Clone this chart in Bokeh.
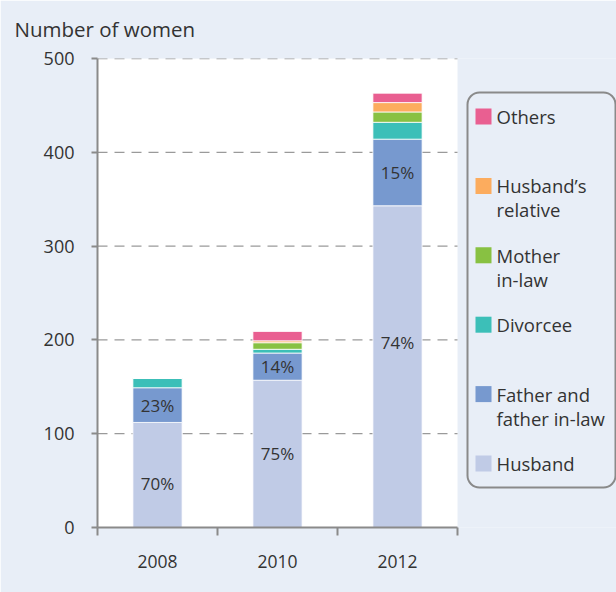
from bokeh.plotting import figure
from bokeh.models import Range1d, FixedTicker, BoxAnnotation, ColumnDataSource
from bokeh.core.properties import value
from bokeh.embed import file_html
from bokeh.resources import INLINE

# ---------------- data ----------------
years = ["2008", "2010", "2012"]
series_keys = ["husband", "father", "divorcee", "mother_in_law", "husbands_relative", "others"]
legend_labels = ["Husband", "Father and\nfather in-law", "Divorcee", "Mother\nin-law",
                 "Husband\u2019s\nrelative", "Others"]
husband = [112, 157, 343]
father = [37, 29, 71]
divorcee = [10, 4, 18]
mother_in_law = [0, 7, 11]
husbands_relative = [0, 2, 10]
others = [0, 10, 10]
colors = ["#c0cbe6", "#7799cf", "#3cbfb8", "#88c142", "#fcac5e", "#e95f91"]
y_ticks = [0, 100, 200, 300, 400, 500]
husband_label_y = [47, 79, 197]   # where the husband share labels sit
axis_title = "Number of women"

# ---------------- style ----------------
FONT = "Open Sans"
TXT = "#333333"
BG = "#e8eef7"
AX = "#8a8a8a"
W, H = 616, 592
FL, FT, FB = 97, 58, 65          # frame left / top / bottom borders (px)
PX_PER_X = 120.0
frame_h = H - FT - FB
x_end = (W - FL) / PX_PER_X


def fx(px):   # figure pixel x -> data x
    return (px - FL) / PX_PER_X


def fy(py):   # figure pixel y -> data y
    return (H - FB - py) * 500.0 / frame_h


xs = [i + 0.5 for i in range(len(years))]
n_cat = len(years)

p = figure(width=W, height=H, output_backend="svg", toolbar_location=None,
           x_range=Range1d(0, x_end), y_range=Range1d(0, 500),
           min_border_left=FL, min_border_top=FT, min_border_bottom=FB, min_border_right=0)
p.background_fill_color = BG
p.border_fill_color = BG
p.outline_line_color = None
p.xgrid.visible = False
p.ygrid.visible = False

# title
p.title.text = axis_title
p.title.text_font = FONT
p.title.text_font_size = "20.5px"
p.title.text_font_style = "normal"
p.title.text_color = TXT
p.title.align = "left"
p.title.vertical_align = "top"
p.title.offset = -83
p.title.standoff = 27

# white plotting area
p.quad(left=[0], right=[n_cat], bottom=[0], top=[y_ticks[-1]], fill_color="white", line_color=None)

# dashed grid lines
gy = y_ticks[1:]
p.segment(x0=[0] * len(gy), x1=[n_cat] * len(gy), y0=gy, y1=gy,
          line_color="#9a9a9a", line_width=1.3, line_dash="10 7")

# stacked bars
src = ColumnDataSource(dict(x=xs, husband=husband, father=father, divorcee=divorcee,
                            mother_in_law=mother_in_law, husbands_relative=husbands_relative,
                            others=others))
p.vbar_stack(series_keys, x="x", width=0.41, color=colors, source=src,
             line_color="white", line_width=1, line_alpha=0.8)

# percentage labels
totals = [sum(v) for v in zip(husband, father, divorcee, mother_in_law, husbands_relative, others)]
pct_h = [f"{round(100 * h / t)}%" for h, t in zip(husband, totals)]
pct_f = [f"{round(100 * f / t)}%" for f, t in zip(father, totals)]
father_mid = [h + f / 2 for h, f in zip(husband, father)]
for ys, txt in ((husband_label_y, pct_h), (father_mid, pct_f)):
    p.text(x=xs, y=ys, text=txt, text_font=value(FONT), text_font_size="17px",
           text_color=TXT, text_align="center", text_baseline="middle")

# axes
p.yaxis.ticker = FixedTicker(ticks=y_ticks)
p.xaxis.ticker = FixedTicker(ticks=xs, minor_ticks=list(range(n_cat + 1)))
p.xaxis.major_label_overrides = {x: y for x, y in zip(xs, years)}
p.xaxis.bounds = (0, n_cat)
for ax in (p.xaxis[0], p.yaxis[0]):
    ax.axis_line_color = AX
    ax.axis_line_width = 2
    ax.major_label_text_font = FONT
    ax.major_label_text_color = TXT
p.yaxis.major_tick_line_color = AX
p.yaxis.major_tick_line_width = 2
p.yaxis.major_tick_out = 6
p.yaxis.major_tick_in = 0
p.yaxis.minor_tick_line_color = None
p.yaxis.major_label_text_font_size = "18px"
p.yaxis.major_label_standoff = 17
p.xaxis.major_tick_line_color = None
p.xaxis.minor_tick_line_color = AX
p.xaxis.minor_tick_line_width = 2
p.xaxis.minor_tick_out = 8
p.xaxis.minor_tick_in = 0
p.xaxis.major_label_text_font_size = "17.5px"
p.xaxis.major_label_standoff = 19

# legend (drawn manually, top to bottom)
box = BoxAnnotation(left=fx(467), right=fx(615), top=fy(92), bottom=fy(487),
                    fill_color=None, fill_alpha=0, line_color=AX, line_alpha=1.0,
                    line_width=2, border_radius=12)
p.add_layout(box)
order = list(range(len(legend_labels)))[::-1]
sw_x, sw_y, sw_c = [], [], []
tx, ty, tt = [], [], []
for row, k in enumerate(order):
    first = 116 + row * 69.4
    sw_x.append(fx(483))
    sw_y.append(fy(first))
    sw_c.append(colors[k])
    for j, line in enumerate(legend_labels[k].split("\n")):
        tx.append(fx(496))
        ty.append(fy(first + j * 24))
        tt.append(line)
p.rect(x=sw_x, y=sw_y, width=16, height=16, width_units="screen", height_units="screen",
       fill_color=sw_c, line_color=None)
p.text(x=tx, y=ty, text=tt, text_font=value(FONT), text_font_size="18.5px",
       text_color=TXT, text_align="left", text_baseline="middle")

open("out.html", "w").write(file_html(p, INLINE))
